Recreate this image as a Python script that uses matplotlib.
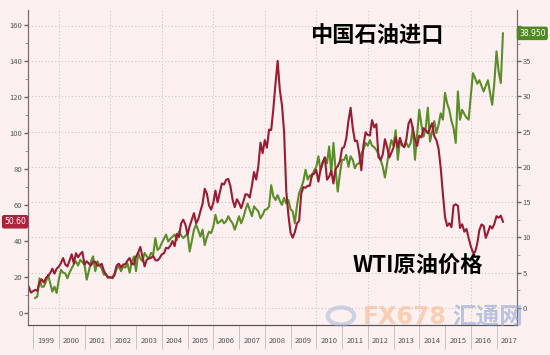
import numpy as np
import matplotlib.pyplot as plt
from matplotlib.ticker import MultipleLocator, NullFormatter

plt.rcParams['font.family'] = ['Noto Sans CJK SC', 'DejaVu Sans']

# WTI month-end close, Oct 1998 - Mar 2017 (left axis)
wti_start = 1998 + 10 / 12
wti = [
    14.42, 11.22, 12.05,
    12.75, 12.27, 16.76, 18.66, 16.84, 19.29, 20.53, 22.10, 24.51, 21.75, 24.59, 25.60,
    27.64, 30.43, 26.90, 25.74, 29.01, 32.50, 27.43, 33.12, 30.84, 32.70, 33.82, 26.80,
    28.66, 27.39, 26.29, 28.46, 28.37, 26.25, 26.35, 27.20, 23.43, 21.18, 19.44, 19.84,
    19.48, 21.74, 26.31, 27.29, 25.31, 26.86, 27.02, 28.98, 30.45, 27.22, 26.89, 31.20,
    33.51, 36.60, 31.04, 25.80, 29.56, 30.19, 30.54, 31.57, 29.20, 29.11, 30.41, 32.52,
    33.05, 36.16, 35.76, 37.38, 39.88, 37.05, 43.80, 42.12, 49.64, 51.76, 49.13, 43.45,
    48.20, 51.75, 55.40, 49.72, 51.97, 56.50, 60.57, 68.94, 66.24, 59.76, 57.32, 61.04,
    67.92, 61.41, 66.63, 71.88, 71.29, 73.93, 74.40, 70.26, 62.91, 58.73, 63.13, 61.05,
    58.14, 61.79, 65.87, 65.71, 64.01, 70.68, 78.21, 74.04, 81.66, 94.53, 88.71, 95.98,
    91.75, 101.84, 101.58, 113.46, 127.35, 140.00, 124.08, 115.46, 100.64, 67.81, 54.43, 44.60,
    41.68, 44.76, 49.66, 51.12, 66.31, 69.89, 69.45, 70.61, 70.61, 77.00, 77.28, 79.36,
    72.89, 79.66, 83.76, 86.15, 73.97, 75.63, 78.95, 71.92, 79.97, 81.43, 84.11, 91.38,
    92.19, 96.97, 106.72, 113.93, 102.70, 95.42, 95.70, 88.81, 79.20, 93.19, 100.36, 98.83,
    98.48, 107.07, 103.02, 104.87, 86.53, 84.96, 88.06, 96.47, 92.19, 86.24, 88.91, 91.82,
    97.49, 92.05, 97.23, 93.46, 91.97, 96.56, 105.03, 107.65, 102.33, 96.38, 92.72, 98.42,
    97.49, 102.59, 101.58, 99.74, 102.71, 105.37, 98.17, 95.96, 91.16, 80.54, 66.15, 53.27,
    48.24, 49.76, 47.60, 59.63, 60.30, 59.47, 47.12, 49.20, 45.09, 46.59, 41.65, 37.04,
    33.62, 33.75, 38.34, 45.92, 49.10, 48.33, 41.60, 44.70, 48.24, 46.86, 49.44, 53.72,
    52.81, 54.01, 50.60,
]

# China crude imports, Jan 1999 - Mar 2017 (right axis)
imports_start = 1999 + 1 / 12
imports = [
    1.4, 1.6, 4.2, 3.0, 3.0, 3.7, 4.7, 3.5, 2.3, 3.0, 2.1, 4.0,
    5.4, 5.0, 4.9, 4.2, 5.0, 5.6, 6.2, 6.6, 6.0, 6.8, 6.5, 6.1,
    4.0, 5.2, 6.6, 7.3, 5.2, 6.6, 6.0, 5.6, 4.7, 4.8, 4.4, 4.3,
    4.2, 4.6, 5.6, 5.9, 5.2, 5.9, 5.7, 6.3, 5.0, 6.5, 7.3, 5.2,
    7.8, 7.0, 6.6, 7.8, 7.3, 7.0, 7.8, 7.5, 9.9, 8.2, 8.5, 9.2,
    9.8, 10.4, 9.4, 9.8, 10.1, 10.4, 9.6, 10.8, 10.3, 9.9, 10.2, 10.6,
    8.0, 9.5, 11.1, 11.8, 11.0, 10.1, 11.1, 8.9, 10.0, 10.8, 10.6, 11.5,
    13.2, 12.0, 12.2, 12.5, 12.0, 12.3, 13.0, 12.4, 12.0, 11.1, 12.0, 13.0,
    12.0, 12.8, 13.9, 14.8, 13.9, 13.0, 14.4, 14.0, 13.7, 12.7, 13.2, 13.9,
    14.0, 14.4, 17.4, 15.8, 15.3, 16.0, 15.2, 14.6, 15.6, 14.8, 15.3, 14.0,
    13.7, 12.0, 14.5, 16.3, 17.0, 18.0, 19.6, 18.2, 18.8, 18.6, 19.5, 20.0,
    21.5, 19.5, 20.5, 21.4, 20.5, 22.9, 19.1, 23.4, 19.6, 16.5, 19.0, 21.0,
    21.0, 21.7, 20.0, 21.5, 21.0, 19.8, 20.4, 20.5, 21.9, 22.5, 23.4, 23.0,
    23.8, 23.0, 22.8, 22.4, 21.8, 21.0, 20.0, 18.5, 20.5, 22.4, 23.8, 23.0,
    25.2, 21.0, 23.8, 23.0, 22.9, 23.4, 22.8, 23.4, 25.7, 21.0, 24.5, 28.1,
    26.0, 24.3, 25.5, 28.4, 23.6, 25.0, 26.5, 24.8, 26.0, 27.6, 26.7, 30.5,
    29.0, 28.1, 26.5, 25.5, 23.4, 30.7, 26.7, 28.1, 27.5, 27.0, 26.7, 30.0,
    33.3, 32.6, 31.8, 32.3, 31.5, 30.7, 31.5, 32.3, 30.5, 28.8, 32.0, 36.4,
    33.5, 31.9, 38.95,
]

years = list(range(1999, 2018))
left_ticks = list(range(0, 161, 20))
right_ticks = list(range(0, 41, 5))

bg = '#fdf0f0'
red = '#9a1c33'
green = '#5b8d28'
txt = '#555555'
gridc = '#dcc2c2'

wti_x = wti_start + np.arange(len(wti)) / 12
imp_x = imports_start + np.arange(len(imports)) / 12

fig = plt.figure(figsize=(5.5, 3.55), dpi=100, facecolor=bg)
ax = fig.add_axes([0.051, 0.085, 0.889, 0.887])
ax2 = ax.twinx()
ax.set_zorder(ax2.get_zorder() + 1)
ax.patch.set_visible(False)
ax2.patch.set_visible(False)

# grid (right axis) + vertical grid every 2 years
ax2.grid(axis='y', ls=(0, (1, 2)), color=gridc, lw=0.8)
for y in years:
    if y % 2 == 0:
        ax2.axvline(y, ls=(0, (1, 2)), color=gridc, lw=0.8, zorder=0)

ax2.plot(imp_x, imports, color=green, lw=1.5)
ax.plot(wti_x, wti, color=red, lw=1.5)

ax.set_xlim(1998.806, 2017.796)
ax.set_ylim(-6.67, 168.3)
ax2.set_ylim(-2.41, 42.27)

ax.set_yticks(left_ticks)
# top right label sits under the last-value tag
ax2.set_yticks(right_ticks, [str(t) if t < 40 else '' for t in right_ticks])
ax.yaxis.set_minor_locator(MultipleLocator(10))
ax2.yaxis.set_minor_locator(MultipleLocator(2.5))
ax.tick_params(axis='y', which='major', length=3, width=1, colors='#666', labelcolor=txt, labelsize=5.5, pad=1)
ax.tick_params(axis='y', which='minor', length=2, width=0.6, colors='#888')
ax2.tick_params(axis='y', which='major', length=3, width=1, colors='#666', labelcolor=txt, labelsize=5.5, pad=1)
ax2.tick_params(axis='y', which='minor', length=2, width=0.6, colors='#888')

ax.set_xticks(years)
ax.xaxis.set_major_formatter(NullFormatter())
ax.set_xticks([y + 0.5 for y in years], [str(y) for y in years], minor=True)
ax.tick_params(axis='x', which='major', length=17, width=0.6, colors='#c8b8b8')
ax.tick_params(axis='x', which='minor', length=0, labelsize=5.5, labelcolor=txt, pad=9)

for a in (ax, ax2):
    a.spines['top'].set_visible(False)
    a.spines['left'].set_color('#7a6a6a')
    a.spines['right'].set_color('#7a6a6a')
    a.spines['bottom'].set_color('#555')

# last-value tags
ax.text(-0.004, wti[-1], f'{wti[-1]:.2f}', transform=ax.get_yaxis_transform(),
        ha='right', va='center', color='white', fontsize=5.5, family='DejaVu Sans',
        bbox=dict(boxstyle='round,pad=0.3', fc='#b0213c', ec='none'), clip_on=False)
ax2.text(1.004, imports[-1], f'{imports[-1]:.3f}', transform=ax2.get_yaxis_transform(),
         ha='left', va='center', color='white', fontsize=5.5, family='DejaVu Sans',
         bbox=dict(boxstyle='round,pad=0.3', fc='#4f8a22', ec='none'), clip_on=False, zorder=5)

fig.text(0.563, 0.901, '中国石油进口', fontsize=16, fontweight='bold', color='black', va='center')
fig.text(0.641, 0.250, 'WTI原油价格', fontsize=16, fontweight='bold', color='black', va='center')

# watermark
fig.text(0.66, 0.108, 'FX678', fontsize=17, fontweight='bold', color='#f6b88c', alpha=0.6,
         va='center', family='DejaVu Sans')
fig.text(0.822, 0.108, '汇通网', fontsize=17, fontweight='bold', color='#8aa6d4', alpha=0.6, va='center')
fig.patches.append(plt.Circle((0.62, 0.11), 0.024, transform=fig.transFigure, fill=False,
                              lw=3, ec='#9fb3d8', alpha=0.5))

fig.savefig('out.png', dpi=100, facecolor=bg)
